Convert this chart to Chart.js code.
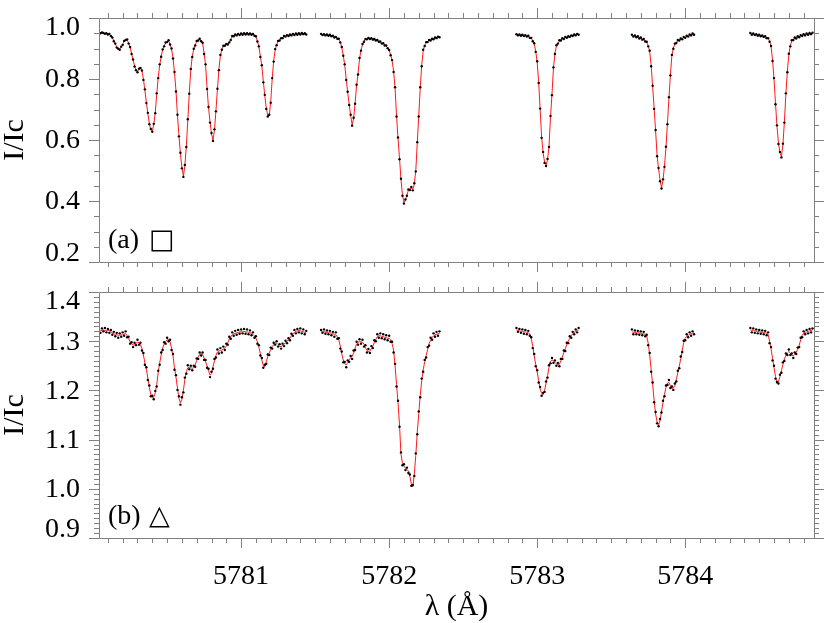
<!DOCTYPE html>
<html>
<head>
<meta charset="utf-8">
<script src="https://cdn.jsdelivr.net/npm/chart.js@4.4.0/dist/chart.umd.min.js"></script>
<style>
  body { margin: 0; background: #fff; }
  #wrap { position: relative; width: 830px; height: 623px; }
  canvas { position: absolute; left: 0; }
  #panelA { top: 0; }
  #panelB { top: 280px; }
</style>
</head>
<body>
<div id="wrap">
  <canvas id="panelA" width="830" height="280"></canvas>
  <canvas id="panelB" width="830" height="343"></canvas>
</div>
<script>
// wavelength grid: each observed segment starts here, sampled every 0.01 A
const segStart = [5780.04, 5781.54, 5782.86, 5783.64, 5784.44];
const dLambda = 0.01;
const xTicks = [5781, 5782, 5783, 5784];
const yTicksA = [0.2, 0.4, 0.6, 0.8, 1.0];
const yTicksB = [0.9, 1.0, 1.1, 1.2, 1.3, 1.4];
const panelTags = ['(a)', '(b)'];
const panelSymbols = ['\u25A1', '\u25B3'];

// panel (a): observed points and fitted profile
const obsA1 = [.952,.950,.953,.951,.948,.950,.946,.948,.941,.936,
  .924,.916,.903,.899,.896,.906,.912,.925,.928,.930,
  .916,.905,.882,.864,.841,.829,.822,.834,.836,.828,
  .797,.766,.721,.689,.652,.636,.627,.653,.688,.753,
  .803,.848,.873,.897,.907,.920,.921,.927,.913,.900,
  .867,.823,.759,.683,.612,.558,.507,.479,.518,.577,
  .668,.752,.833,.872,.899,.910,.925,.926,.932,.924,
  .919,.882,.848,.767,.708,.657,.623,.597,.635,.694,
  .768,.829,.879,.896,.909,.909,.915,.913,.920,.928,
  .941,.940,.946,.943,.948,.944,.949,.945,.950,.946,
  .950,.946,.949,.945,.948,.942,.940,.923,.907,.872,
  .845,.789,.748,.702,.677,.683,.722,.803,.857,.898,
  .911,.925,.926,.934,.934,.941,.939,.944,.941,.946,
  .943,.948,.944,.949,.945,.950,.946,.951,.947,.950,
  .946];
const fitA1 = [.950,.951,.950,.951,.950,.949,.948,.946,.942,.935,
  .926,.915,.905,.898,.898,.905,.914,.923,.929,.928,
  .918,.903,.884,.862,.844,.827,.825,.832,.838,.826,
  .800,.763,.724,.686,.655,.633,.630,.650,.690,.750,
  .805,.845,.875,.895,.909,.918,.923,.925,.915,.898,
  .870,.820,.762,.680,.615,.555,.510,.482,.515,.580,
  .665,.755,.830,.875,.897,.912,.923,.928,.930,.926,
  .917,.885,.845,.770,.705,.660,.620,.600,.632,.697,
  .765,.832,.876,.898,.907,.911,.913,.915,.918,.930,
  .939,.942,.944,.945,.946,.946,.947,.947,.948,.948,
  .948,.948,.947,.947,.946,.944,.938,.925,.905,.875,
  .842,.792,.745,.705,.680,.680,.725,.800,.860,.895,
  .913,.923,.928,.932,.936,.939,.941,.942,.943,.944,
  .945,.946,.946,.947,.947,.948,.948,.948,.949,.948,
  .948];
const obsA2 = [.948,.944,.947,.943,.946,.942,.945,.940,.942,.936,
  .938,.932,.932,.920,.905,.876,.848,.797,.758,.715,
  .683,.647,.673,.719,.781,.815,.869,.893,.915,.922,
  .931,.930,.935,.931,.934,.929,.931,.926,.928,.922,
  .923,.916,.917,.910,.910,.901,.895,.878,.862,.823,
  .773,.677,.608,.537,.473,.417,.392,.405,.417,.438,
  .436,.446,.435,.458,.497,.593,.677,.773,.842,.896,
  .908,.921,.921,.928,.926,.932,.930,.936,.934,.939,
  .937];
const fitA2 = [.946,.946,.945,.945,.944,.944,.943,.942,.940,.938,
  .936,.934,.930,.922,.903,.878,.845,.800,.755,.718,
  .680,.650,.670,.722,.778,.818,.866,.895,.912,.924,
  .929,.932,.933,.933,.932,.931,.929,.928,.926,.924,
  .921,.918,.915,.912,.908,.903,.893,.880,.860,.826,
  .770,.680,.605,.540,.470,.420,.396,.402,.420,.435,
  .440,.442,.438,.455,.500,.590,.680,.770,.845,.893,
  .910,.919,.923,.926,.928,.930,.932,.934,.936,.937,
  .939];
const obsA3 = [.947,.943,.946,.942,.945,.941,.944,.939,.942,.935,
  .935,.924,.917,.889,.858,.787,.703,.607,.561,.525,
  .515,.538,.577,.679,.747,.838,.882,.911,.916,.927,
  .926,.934,.931,.938,.935,.940,.938,.943,.941,.946,
  .943,.948,.945];
const fitA3 = [.944,.945,.944,.944,.943,.943,.942,.941,.940,.937,
  .933,.926,.915,.892,.855,.790,.700,.610,.558,.528,
  .518,.535,.580,.676,.750,.835,.885,.908,.918,.924,
  .928,.931,.933,.935,.937,.938,.940,.941,.943,.944,
  .945,.946,.947];
const obsA4 = [.945,.939,.943,.937,.940,.933,.936,.929,.931,.923,
  .922,.907,.893,.842,.778,.702,.633,.547,.508,.465,
  .441,.471,.512,.578,.652,.740,.812,.879,.899,.916,
  .918,.928,.926,.933,.930,.938,.935,.942,.939,.946,
  .943,.949,.945];
const fitA4 = [.942,.941,.940,.939,.937,.935,.933,.931,.928,.925,
  .920,.910,.890,.845,.775,.705,.630,.550,.505,.468,
  .444,.468,.515,.575,.655,.737,.815,.876,.902,.913,
  .920,.925,.928,.930,.932,.935,.937,.939,.941,.943,
  .945,.946,.947];
const obsA5 = [.951,.945,.949,.944,.947,.942,.945,.940,.943,.938,
  .940,.934,.934,.922,.908,.859,.803,.717,.648,.587,
  .561,.543,.588,.657,.753,.822,.883,.907,.927,.928,
  .936,.933,.940,.937,.944,.941,.947,.943,.949,.945,
  .951,.947,.952];
const fitA5 = [.948,.947,.947,.946,.945,.944,.943,.942,.941,.940,
  .938,.936,.932,.925,.905,.862,.800,.720,.645,.590,
  .558,.546,.585,.660,.750,.825,.880,.910,.924,.930,
  .933,.935,.937,.939,.941,.943,.944,.945,.946,.947,
  .948,.949,.950];

// panel (b): observed points and fitted profile
const obsB1 = [1.324,1.317,1.326,1.320,1.327,1.318,1.325,1.317,1.323,1.313,
  1.319,1.310,1.317,1.307,1.316,1.309,1.318,1.311,1.320,1.308,
  1.309,1.295,1.298,1.288,1.297,1.292,1.303,1.293,1.297,1.281,
  1.276,1.252,1.247,1.221,1.210,1.188,1.189,1.182,1.199,1.208,
  1.240,1.252,1.277,1.282,1.298,1.295,1.307,1.300,1.303,1.282,
  1.274,1.242,1.231,1.201,1.188,1.171,1.186,1.196,1.226,1.234,
  1.251,1.243,1.250,1.241,1.250,1.248,1.265,1.264,1.277,1.271,
  1.277,1.262,1.262,1.246,1.244,1.227,1.238,1.244,1.264,1.267,
  1.283,1.275,1.286,1.277,1.289,1.282,1.295,1.293,1.309,1.305,
  1.318,1.311,1.321,1.313,1.323,1.315,1.324,1.316,1.325,1.315,
  1.324,1.314,1.322,1.312,1.318,1.307,1.310,1.295,1.292,1.271,
  1.266,1.246,1.252,1.254,1.273,1.272,1.287,1.285,1.297,1.293,
  1.300,1.289,1.294,1.285,1.295,1.290,1.301,1.296,1.306,1.302,
  1.315,1.311,1.323,1.316,1.325,1.318,1.326,1.316,1.324,1.314,
  1.321];
const fitB1 = [1.319,1.321,1.322,1.323,1.322,1.322,1.322,1.321,1.319,1.317,
  1.315,1.314,1.313,1.312,1.312,1.313,1.313,1.315,1.315,1.312,
  1.306,1.299,1.294,1.292,1.293,1.296,1.298,1.297,1.293,1.285,
  1.272,1.256,1.243,1.225,1.206,1.192,1.185,1.186,1.195,1.212,
  1.236,1.256,1.272,1.286,1.294,1.299,1.303,1.304,1.299,1.286,
  1.270,1.246,1.227,1.205,1.184,1.175,1.182,1.200,1.222,1.238,
  1.246,1.247,1.246,1.245,1.246,1.252,1.261,1.268,1.273,1.275,
  1.273,1.266,1.258,1.250,1.240,1.231,1.234,1.248,1.260,1.271,
  1.278,1.280,1.281,1.282,1.284,1.286,1.290,1.297,1.304,1.309,
  1.313,1.315,1.316,1.317,1.318,1.319,1.319,1.320,1.320,1.319,
  1.319,1.318,1.317,1.316,1.314,1.311,1.306,1.299,1.288,1.275,
  1.262,1.250,1.248,1.258,1.269,1.276,1.283,1.289,1.293,1.297,
  1.296,1.293,1.290,1.289,1.291,1.294,1.297,1.300,1.302,1.306,
  1.311,1.315,1.318,1.320,1.321,1.322,1.321,1.320,1.319,1.318,
  1.317];
const obsB2 = [1.323,1.317,1.324,1.315,1.322,1.314,1.321,1.312,1.319,1.309,
  1.318,1.305,1.306,1.285,1.279,1.257,1.258,1.247,1.261,1.258,
  1.270,1.264,1.281,1.282,1.299,1.293,1.304,1.295,1.303,1.289,
  1.292,1.277,1.284,1.276,1.290,1.286,1.302,1.300,1.314,1.307,
  1.316,1.306,1.314,1.304,1.312,1.302,1.311,1.299,1.299,1.277,
  1.254,1.208,1.179,1.126,1.074,1.048,1.050,1.038,1.043,1.032,
  1.029,1.006,1.008,1.026,1.072,1.111,1.157,1.186,1.224,1.238,
  1.262,1.267,1.288,1.291,1.307,1.303,1.316,1.309,1.319,1.311,
  1.320];
const fitB2 = [1.319,1.320,1.319,1.319,1.318,1.318,1.317,1.316,1.315,1.314,
  1.313,1.309,1.302,1.290,1.274,1.262,1.254,1.252,1.256,1.262,
  1.266,1.269,1.276,1.286,1.294,1.298,1.299,1.299,1.298,1.294,
  1.287,1.281,1.279,1.280,1.285,1.290,1.297,1.304,1.309,1.311,
  1.311,1.310,1.309,1.308,1.307,1.306,1.306,1.303,1.295,1.282,
  1.250,1.212,1.175,1.130,1.070,1.052,1.046,1.042,1.039,1.036,
  1.025,1.010,1.004,1.030,1.068,1.115,1.153,1.190,1.220,1.242,
  1.258,1.271,1.283,1.295,1.302,1.307,1.311,1.313,1.314,1.315,
  1.316];
const obsB3 = [1.327,1.319,1.325,1.317,1.324,1.315,1.323,1.314,1.321,1.311,
  1.308,1.286,1.274,1.249,1.241,1.216,1.207,1.189,1.195,1.197,
  1.218,1.226,1.251,1.255,1.266,1.256,1.261,1.250,1.256,1.249,
  1.264,1.264,1.281,1.280,1.297,1.296,1.310,1.307,1.319,1.314,
  1.324,1.318,1.327];
const fitB3 = [1.323,1.322,1.321,1.320,1.320,1.319,1.319,1.318,1.317,1.315,
  1.305,1.290,1.270,1.253,1.238,1.220,1.203,1.194,1.191,1.200,
  1.214,1.230,1.247,1.259,1.262,1.260,1.257,1.254,1.252,1.253,
  1.260,1.268,1.277,1.285,1.293,1.300,1.306,1.311,1.315,1.318,
  1.320,1.322,1.323];
const obsB4 = [1.324,1.314,1.322,1.314,1.321,1.313,1.320,1.312,1.319,1.310,
  1.313,1.292,1.276,1.238,1.216,1.176,1.156,1.133,1.127,1.142,
  1.155,1.179,1.188,1.210,1.211,1.221,1.205,1.208,1.201,1.214,
  1.218,1.240,1.245,1.269,1.278,1.301,1.302,1.314,1.308,1.318,
  1.311,1.320,1.314];
const fitB4 = [1.319,1.318,1.318,1.318,1.317,1.317,1.316,1.316,1.315,1.314,
  1.310,1.296,1.272,1.242,1.212,1.180,1.152,1.136,1.130,1.138,
  1.158,1.175,1.192,1.206,1.215,1.216,1.209,1.204,1.205,1.210,
  1.222,1.236,1.249,1.265,1.282,1.297,1.306,1.310,1.312,1.314,
  1.315,1.316,1.317];
const obsB5 = [1.327,1.318,1.326,1.317,1.324,1.316,1.323,1.315,1.322,1.314,
  1.321,1.312,1.318,1.296,1.288,1.261,1.250,1.224,1.217,1.214,
  1.232,1.236,1.257,1.260,1.275,1.272,1.283,1.272,1.275,1.266,
  1.277,1.274,1.287,1.288,1.307,1.308,1.320,1.314,1.323,1.316,
  1.325,1.318,1.326];
const fitB5 = [1.323,1.322,1.322,1.321,1.320,1.320,1.319,1.319,1.318,1.318,
  1.317,1.316,1.314,1.300,1.284,1.265,1.246,1.228,1.214,1.218,
  1.228,1.240,1.253,1.264,1.271,1.276,1.279,1.276,1.271,1.270,
  1.273,1.278,1.283,1.292,1.303,1.312,1.316,1.318,1.319,1.320,
  1.321,1.322,1.323];

const SERIF = '"Liberation Serif", "Times New Roman", serif';
Chart.defaults.font.family = SERIF;
Chart.defaults.color = '#000';

// join the segments, with a null between them so the line breaks at the gaps
function toPoints(segs) {
  const pts = [];
  segs.forEach((vals, s) => {
    if (s > 0) pts.push({ x: segStart[s] - 0.05, y: null });
    vals.forEach((v, i) => pts.push({ x: +(segStart[s] + i * dLambda).toFixed(2), y: v }));
  });
  return pts;
}

// box around the plot with minor/major ticks on all four sides
const frameTicks = {
  id: 'frameTicks',
  afterDatasetsDraw(chart, args, opts) {
    const { ctx, chartArea: a, scales: { x, y } } = chart;
    ctx.save();
    ctx.strokeStyle = '#808080';
    ctx.lineWidth = 1;
    ctx.beginPath();
    ctx.rect(Math.round(a.left) + 0.5, Math.round(a.top) + 0.5,
             Math.round(a.right - a.left), Math.round(a.bottom - a.top));
    for (let i = Math.ceil(x.min * 10 - 1e-6); i <= Math.floor(x.max * 10 + 1e-6); i++) {
      const px = Math.round(x.getPixelForValue(i / 10)) + 0.5;
      const len = i % 10 === 0 ? 10 : 5;
      ctx.moveTo(px, a.bottom); ctx.lineTo(px, a.bottom + len);
      ctx.moveTo(px, a.top); ctx.lineTo(px, a.top - len);
    }
    const n0 = Math.ceil(y.min / opts.minor - 1e-6), n1 = Math.floor(y.max / opts.minor + 1e-6);
    for (let i = n0; i <= n1; i++) {
      const py = Math.round(y.getPixelForValue(i * opts.minor)) + 0.5;
      const len = i % opts.every === 0 ? 10 : 5;
      ctx.moveTo(a.left, py); ctx.lineTo(a.left - len, py);
      ctx.moveTo(a.right, py); ctx.lineTo(a.right + len, py);
    }
    ctx.stroke();

    // y tick labels, the end ones kept inside the frame
    ctx.font = '28px ' + SERIF;
    ctx.fillStyle = '#000';
    ctx.textAlign = 'right';
    ctx.textBaseline = 'middle';
    opts.labels.forEach(v => {
      const py = Math.min(Math.max(y.getPixelForValue(v), a.top + 9), a.bottom - 9);
      ctx.fillText(v.toFixed(1), a.left - 19, py + 1);
    });
    ctx.restore();
  }
};

// "(a) □" / "(b) △" in the lower left corner
const panelLabel = {
  id: 'panelLabel',
  afterDraw(chart, args, opts) {
    const { ctx, chartArea: a } = chart;
    ctx.save();
    ctx.fillStyle = '#000';
    ctx.textBaseline = 'alphabetic';
    ctx.font = '28px ' + SERIF;
    ctx.fillText(opts.tag, a.left + 9, a.bottom - 14);
    ctx.font = '27px "DejaVu Sans"';
    ctx.fillText(opts.symbol, a.left + 50, a.bottom - 14);
    ctx.restore();
  }
};

function makePanel(id, obs, fit, yMin, yMax, yTicks, minor, every, k, showX, xHeight, padTop) {
  return new Chart(document.getElementById(id), {
    type: 'line',
    data: {
      datasets: [
        {
          data: toPoints(obs),
          showLine: false,
          pointRadius: 1.2,
          pointBackgroundColor: '#000',
          pointBorderWidth: 0
        },
        {
          data: toPoints(fit),
          borderColor: '#ff1a1a',
          borderWidth: 1,
          pointRadius: 0,
          spanGaps: false
        }
      ]
    },
    options: {
      responsive: false,
      animation: false,
      events: [],
      layout: { autoPadding: false, padding: { top: padTop, right: 16, bottom: 0, left: 0 } },
      plugins: {
        legend: { display: false },
        tooltip: { enabled: false },
        frameTicks: { minor: minor, every: every, labels: yTicks },
        panelLabel: { tag: panelTags[k], symbol: panelSymbols[k] }
      },
      scales: {
        x: {
          type: 'linear',
          min: 5780.04,
          max: 5784.87,
          afterBuildTicks: s => { s.ticks = xTicks.map(v => ({ value: v })); },
          afterFit: s => { s.height = xHeight; },
          grid: { display: false, drawTicks: true, tickLength: 22 },
          border: { display: false },
          ticks: { display: showX, padding: 0, font: { size: 28, lineHeight: 1.2 }, callback: v => String(v) },
          title: { display: showX, text: 'λ (Å)', font: { size: 30, lineHeight: 1.07 }, padding: 0 }
        },
        y: {
          type: 'linear',
          min: yMin,
          max: yMax,
          afterFit: s => { s.width = 99; },
          grid: { display: false, drawTicks: false },
          border: { display: false },
          ticks: { display: false },
          title: { display: true, text: 'I/Ic', font: { size: 30, lineHeight: 1 }, padding: 0 }
        }
      }
    },
    plugins: [frameTicks, panelLabel]
  });
}

makePanel('panelA', [obsA1, obsA2, obsA3, obsA4, obsA5], [fitA1, fitA2, fitA3, fitA4, fitA5],
          0.2, 1.0, yTicksA, 0.05, 4, 0, false, 18, 18);
makePanel('panelB', [obsB1, obsB2, obsB3, obsB4, obsB5], [fitB1, fitB2, fitB3, fitB4, fitB5],
          0.9, 1.4, yTicksB, 0.01, 10, 1, true, 85, 12);
</script>
</body>
</html>
